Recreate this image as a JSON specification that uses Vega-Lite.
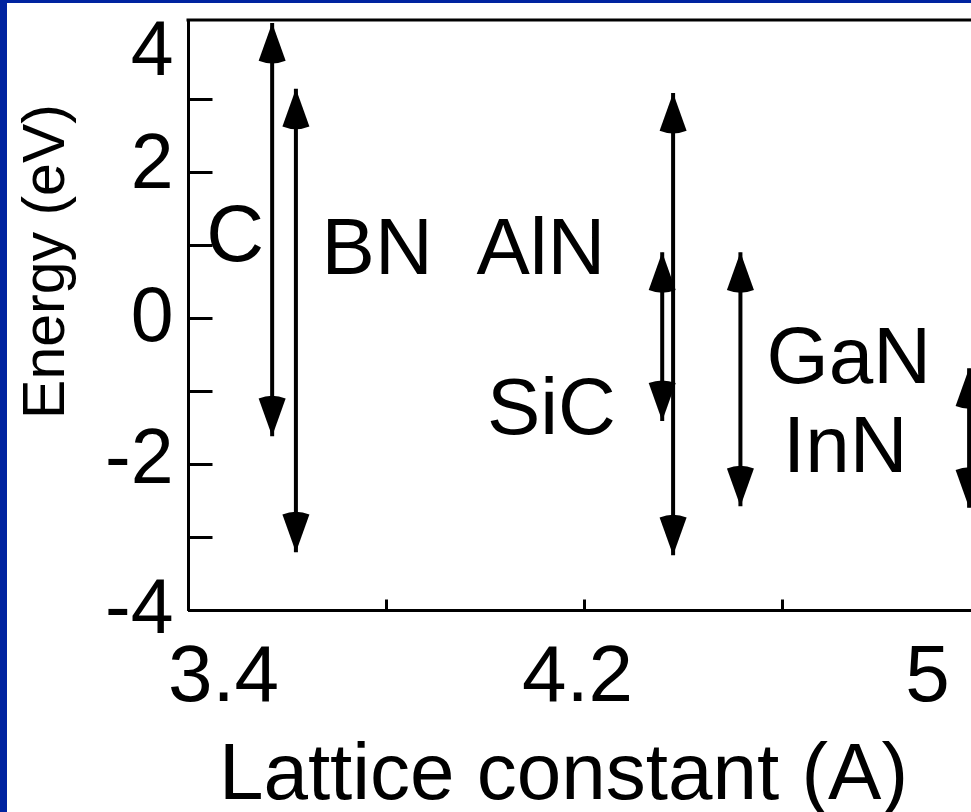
{
  "$schema": "https://vega.github.io/schema/vega-lite/v6.json",
  "width": 964,
  "height": 809,
  "autosize": {"type": "none"},
  "padding": {"left": 7, "top": 3, "right": 0, "bottom": 0},
  "background": "#0023a0",
  "config": {
    "view": {"fill": "white", "stroke": null},
    "font": "Liberation Sans",
    "axis": {
      "grid": false,
      "domainColor": "black",
      "tickColor": "black",
      "labelColor": "black",
      "titleColor": "black",
      "labelFont": "Liberation Sans",
      "titleFont": "Liberation Sans",
      "labelFontWeight": "normal",
      "titleFontWeight": "normal",
      "labelOverlap": false,
      "labelFlush": false,
      "domainWidth": 3,
      "tickWidth": 3
    },
    "axisX": {
      "tickSize": -11,
      "labelFontSize": 80,
      "labelAlign": "center",
      "labelBaseline": "alphabetic",
      "labelPadding": 101
    },
    "axisY": {
      "tickSize": -24,
      "labelFontSize": 77,
      "labelAlign": "right",
      "labelBaseline": "alphabetic",
      "labelPadding": 39
    }
  },
  "resolve": {"axis": {"x": "independent", "y": "independent"}},
  "datasets": {
    "arrows": [
      {"material": "C", "a": 3.570, "top": 4.04, "bottom": -1.62},
      {"material": "BN", "a": 3.618, "top": 3.14, "bottom": -3.21},
      {"material": "SiC", "a": 4.358, "top": 0.90, "bottom": -1.41},
      {"material": "AlN", "a": 4.380, "top": 3.08, "bottom": -3.25},
      {"material": "GaN", "a": 4.516, "top": 0.90, "bottom": -2.58},
      {"material": "InN", "a": 4.978, "top": -0.69, "bottom": -2.60}
    ],
    "labels": [
      {"label": "C", "a": 3.495, "e": 0.78},
      {"label": "BN", "a": 3.782, "e": 0.60},
      {"label": "AlN", "a": 4.113, "e": 0.60},
      {"label": "SiC", "a": 4.134, "e": -1.59},
      {"label": "GaN", "a": 4.735, "e": -0.89},
      {"label": "InN", "a": 4.728, "e": -2.11}
    ]
  },
  "layer": [
    {
      "data": {"values": [{}]},
      "mark": {"type": "rule", "stroke": "black", "strokeWidth": 3, "strokeCap": "square"},
      "encoding": {
        "x": {
          "datum": 3.4,
          "type": "quantitative",
          "scale": {"domain": [3.4, 5.0], "range": [181, 973], "nice": false, "zero": false},
          "axis": {"orient": "bottom", "offset": -202, "title": null, "values": [3.4], "labelExpr": "'3.4'", "labelOffset": 35}
        },
        "x2": {"datum": 5.0},
        "y": {
          "datum": 4.08,
          "type": "quantitative",
          "scale": {"domain": [-4, 4.08], "range": [607, 17], "nice": false, "zero": false},
          "axis": {"orient": "left", "offset": -181, "title": null, "values": [4], "labelExpr": "'4'", "labelOffset": 49, "tickOpacity": 0}
        }
      }
    },
    {
      "data": {"name": "arrows"},
      "mark": {"type": "rule", "stroke": "black", "strokeWidth": 4},
      "encoding": {
        "x": {
          "field": "a",
          "type": "quantitative",
          "scale": {"domain": [3.4, 5.0], "range": [181, 973], "nice": false, "zero": false},
          "axis": {"orient": "bottom", "offset": -202, "title": null, "values": [4.2], "labelExpr": "'4.2'", "labelOffset": -7}
        },
        "y": {
          "field": "top",
          "type": "quantitative",
          "scale": {"domain": [-4, 4.08], "range": [607, 17], "nice": false, "zero": false},
          "axis": {"orient": "left", "offset": -181, "title": null, "values": [2], "labelExpr": "'2'", "labelOffset": 16}
        },
        "y2": {"field": "bottom"}
      }
    },
    {
      "data": {"name": "arrows"},
      "mark": {"type": "point", "shape": "M0,0L-1,2.8Q0,3.2,1,2.8Z", "size": 729, "filled": true, "color": "black", "opacity": 1, "strokeWidth": 0},
      "encoding": {
        "x": {
          "field": "a",
          "type": "quantitative",
          "scale": {"domain": [3.4, 5.0], "range": [181, 973], "nice": false, "zero": false},
          "axis": {"orient": "bottom", "offset": -202, "title": null, "values": [5.0], "labelExpr": "'5'", "labelOffset": -53}
        },
        "y": {
          "field": "top",
          "type": "quantitative",
          "scale": {"domain": [-4, 4.08], "range": [607, 17], "nice": false, "zero": false},
          "axis": {"orient": "left", "offset": -181, "title": null, "values": [0], "labelExpr": "'0'", "labelOffset": 23}
        }
      }
    },
    {
      "data": {"name": "arrows"},
      "mark": {"type": "point", "shape": "M0,0L-1,-2.8Q0,-3.2,1,-2.8Z", "size": 729, "filled": true, "color": "black", "opacity": 1, "strokeWidth": 0},
      "encoding": {
        "x": {
          "field": "a",
          "type": "quantitative",
          "scale": {"domain": [3.4, 5.0], "range": [181, 973], "nice": false, "zero": false},
          "axis": {
            "orient": "bottom",
            "offset": -202,
            "values": [3.8, 4.6],
            "labelExpr": "''",
            "title": "Lattice constant (A)",
            "titleFontSize": 80,
            "titleX": 556,
            "titleY": 188,
            "titleAngle": 0,
            "titleAlign": "center",
            "titleBaseline": "alphabetic"
          }
        },
        "y": {
          "field": "bottom",
          "type": "quantitative",
          "scale": {"domain": [-4, 4.08], "range": [607, 17], "nice": false, "zero": false},
          "axis": {"orient": "left", "offset": -181, "title": null, "values": [-2], "labelExpr": "'-2'", "labelOffset": 19}
        }
      }
    },
    {
      "data": {"name": "labels"},
      "mark": {"type": "text", "font": "Liberation Sans", "fontSize": 80, "align": "center", "baseline": "alphabetic", "color": "black"},
      "encoding": {
        "x": {"field": "a", "type": "quantitative", "scale": {"domain": [3.4, 5.0], "range": [181, 973], "nice": false, "zero": false}, "axis": null},
        "y": {
          "field": "e",
          "type": "quantitative",
          "scale": {"domain": [-4, 4.08], "range": [607, 17], "nice": false, "zero": false},
          "axis": {
            "orient": "left",
            "offset": -181,
            "values": [-4, -3, -1, 1, 3],
            "labelExpr": "datum.value == -4 ? '-4' : ''",
            "labelOffset": 22,
            "title": "Energy (eV)",
            "titleFontSize": 59,
            "titleX": -125,
            "titleY": 258,
            "titleAngle": 270,
            "titleAlign": "center",
            "titleBaseline": "alphabetic"
          }
        },
        "text": {"field": "label"}
      }
    }
  ]
}
